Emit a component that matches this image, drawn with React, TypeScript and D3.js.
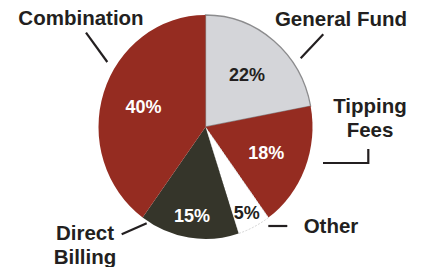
import React from "react";
import * as d3 from "d3";

const categories = ["General Fund", "Tipping Fees", "Other", "Direct Billing", "Combination"];
const shares = [22, 18, 5, 15, 40];
const sliceColors = ["#d4d5d9", "#952c21", "#ffffff", "#35352a", "#952c21"];
const pctColors = ["#231f20", "#ffffff", "#231f20", "#ffffff", "#ffffff"];

const W = 425;
const H = 267;
const cx = 205.5;
const cy = 127;
const ry = 112;
const rx = 107;
const sx = rx / ry;

// outer annotation layout (labels + leader lines)
const annotations = [
  { lines: ["General Fund"], x: 341, y: 26, leader: [[323.3, 34.3], [300.7, 58.3]] },
  { lines: ["Tipping", "Fees"], x: 370, y: 113, leader: [[323, 163], [368.3, 163], [368.3, 149]] },
  { lines: ["Other"], x: 331, y: 233, leader: [[268.3, 226], [287.3, 226]] },
  { lines: ["Direct", "Billing"], x: 85, y: 240, leader: [[121.7, 234.3], [146.7, 223.3]] },
  { lines: ["Combination"], x: 81, y: 25, leader: [[86, 32.7], [107.3, 62]] },
];

function labelRadius(v: number) {
  if (v < 10) return 0.85;
  if (v <= 15) return 0.8;
  return 0.61;
}

export default function App() {
  const pie = d3.pie<number>().value((d) => d).sort(null);
  const arcs = pie(shares);
  const arc = d3.arc<d3.PieArcDatum<number>>().innerRadius(0).outerRadius(ry);
  const line = d3.line();

  return (
    <svg width={W} height={H} style={{ position: "absolute", left: 0, top: 0, background: "#fff" }}
      fontFamily="'Liberation Sans', Arial, sans-serif" fontWeight="bold">
      <g transform={`translate(${cx},${cy}) scale(${sx},1)`}>
        {arcs.map((a, i) => (
          <path key={i} d={arc(a) || ""} fill={sliceColors[i]}
            stroke={i === 0 ? "#8c8c8e" : i === 2 ? "#c8c8c8" : "none"}
            strokeWidth={i === 0 ? 1.3 : 0.8}
            strokeDasharray={i === 2 ? "2,1.5" : undefined}
            vectorEffect="non-scaling-stroke" />
        ))}
      </g>
      {arcs.map((a, i) => {
        const r = ry * labelRadius(shares[i]);
        const mid = (a.startAngle + a.endAngle) / 2;
        const x = cx + Math.sin(mid) * r * sx;
        const y = cy - Math.cos(mid) * r;
        return (
          <text key={i} x={x} y={y + 7} textAnchor="middle" fontSize={18} fill={pctColors[i]}>
            {shares[i]}%
          </text>
        );
      })}
      {annotations.map((an, i) => (
        <g key={i}>
          {an.lines.map((l, j) => (
            <text key={j} x={an.x} y={an.y + j * 24} textAnchor="middle" fontSize={20.5} fill="#231f20">
              {l}
            </text>
          ))}
          <path d={line(an.leader as [number, number][]) || ""} fill="none" stroke="#231f20" strokeWidth={2.2} />
        </g>
      ))}
    </svg>
  );
}
